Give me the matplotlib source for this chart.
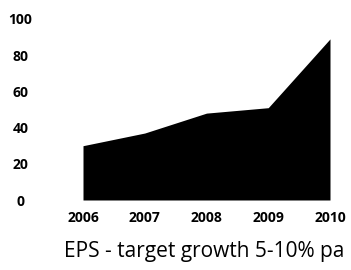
import matplotlib
matplotlib.use('Agg')
import matplotlib.pyplot as plt

years = ['2006', '2007', '2008', '2009', '2010']
eps = [30, 37, 48, 51, 89]
y_ticks = [0, 20, 40, 60, 80, 100]

plt.rcParams['font.family'] = ['Open Sans', 'DejaVu Sans']

fig = plt.figure(figsize=(3.51, 2.70), dpi=100)
ax = fig.add_axes([83 / 351, 70 / 270, 247 / 351, 181 / 270])

x = list(range(len(years)))
ax.fill_between(x, eps, 0, color='black', linewidth=0)

ax.set_xlim(0, len(years) - 1)
ax.set_ylim(0, 100)
ax.set_xticks(x)
ax.set_xticklabels(years, fontsize=10, fontweight='bold')
ax.set_yticks(y_ticks)
ax.set_yticklabels([str(v) for v in y_ticks], fontsize=10, fontweight='bold', ha='center')
ax.tick_params(axis='both', length=0)
ax.tick_params(axis='y', pad=45)
ax.tick_params(axis='x', pad=8)
for s in ax.spines.values():
    s.set_visible(False)

fig.text(204 / 351, 1 - 252 / 270, 'EPS - target growth 5-10% pa',
         fontsize=15, ha='center', va='center')

fig.savefig('out.png', dpi=100)
